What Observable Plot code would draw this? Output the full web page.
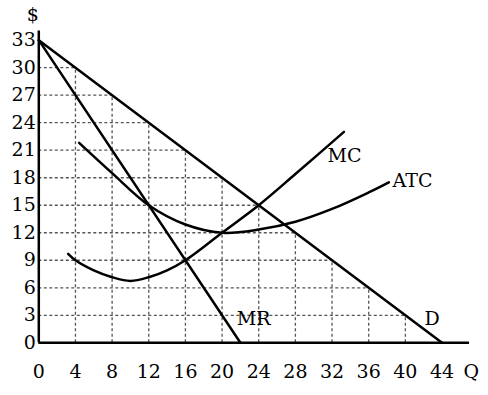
<!DOCTYPE html>
<html>
<head>
<meta charset="utf-8">
<script src="https://cdn.jsdelivr.net/npm/d3@7"></script>
<script src="https://cdn.jsdelivr.net/npm/@observablehq/plot@0.6"></script>
<style>
  html, body { margin: 0; padding: 0; background: #fff; }
  #chart svg { display: block; }
</style>
</head>
<body>
<div id="chart"></div>
<script>
const xTicks = [0, 4, 8, 12, 16, 20, 24, 28, 32, 36, 40, 44];
const yTicks = [0, 3, 6, 9, 12, 15, 18, 21, 24, 27, 30, 33];

const demand = [[0, 33], [44, 0]];
const mr = [[0, 33], [22, 0]];
const mc = [[3.2, 9.7], [4, 9.0], [6, 7.9], [8, 7.15], [10, 6.75], [12, 7.15], [14, 7.9], [16, 9], [20, 12], [24, 15], [28, 18.4], [33.3, 23]];
const atc = [[4.4, 21.8], [8, 18.5], [12, 15], [16, 12.9], [20, 12], [24, 12.35], [28, 13.2], [32, 14.6], [36, 16.4], [38.2, 17.5]];

const curveLabels = [
  {label: "MC", x: 31.5, y: 20.4},
  {label: "ATC", x: 38.6, y: 17.7},
  {label: "MR", x: 21.6, y: 2.65},
  {label: "D", x: 42.1, y: 2.65}
];

// demand line value, used to clip the grid under D
const dSlope = (demand[1][1] - demand[0][1]) / (demand[1][0] - demand[0][0]);
const dAt = x => demand[0][1] + dSlope * x;
const dInv = y => (y - demand[0][1]) / dSlope;

const vGrid = xTicks.filter(x => x > 0 && x < 44).map(x => ({x, y1: 0, y2: dAt(x)}));
const hGrid = yTicks.filter(y => y > 0 && y < 33).map(y => ({y, x1: 0, x2: dInv(y)}));

const font = "DejaVu Serif";
const fs = 19;

const chart = Plot.plot({
  width: 488,
  height: 395,
  marginLeft: 38.3,
  marginRight: 19,
  marginTop: 30.5,
  marginBottom: 52.7,
  style: {fontFamily: font, fontSize: fs + "px", color: "#000", background: "#fff"},
  x: {domain: [0, 47], axis: null},
  y: {domain: [0, 34], axis: null},
  marks: [
    Plot.ruleX(vGrid, {x: "x", y1: "y1", y2: "y2", stroke: "#555", strokeWidth: 1.3, strokeDasharray: "3,2.5"}),
    Plot.ruleY(hGrid, {y: "y", x1: "x1", x2: "x2", stroke: "#555", strokeWidth: 1.3, strokeDasharray: "3,2.5"}),
    Plot.line(demand, {x: d => d[0], y: d => d[1], stroke: "#000", strokeWidth: 2.5}),
    Plot.line(mr, {x: d => d[0], y: d => d[1], stroke: "#000", strokeWidth: 2.5}),
    Plot.line(mc, {x: d => d[0], y: d => d[1], stroke: "#000", strokeWidth: 2.5, curve: "catmull-rom"}),
    Plot.line(atc, {x: d => d[0], y: d => d[1], stroke: "#000", strokeWidth: 2.5, curve: "catmull-rom"}),
    Plot.ruleX([0], {y1: 0, y2: 34, stroke: "#000", strokeWidth: 2.5}),
    Plot.ruleY([0], {x1: 0, x2: 47, stroke: "#000", strokeWidth: 2.5}),
    Plot.text(yTicks, {x: 0, y: d => d, text: d => String(d), textAnchor: "end", dx: -3, fill: "#000", fontSize: fs}),
    Plot.text(xTicks, {x: d => d, y: 0, text: d => String(d), dy: 29, fill: "#000", fontSize: fs}),
    Plot.text(["Q"], {x: 47.2, y: 0, text: d => d, dy: 29, fill: "#000", fontSize: fs}),
    Plot.text(["$"], {x: 0, y: 34, text: d => d, dx: -6, dy: -16, fill: "#000", fontSize: fs}),
    Plot.text(curveLabels, {x: "x", y: "y", text: "label", textAnchor: "start", fill: "#000", fontSize: fs})
  ]
});

document.getElementById("chart").appendChild(chart);
</script>
</body>
</html>
